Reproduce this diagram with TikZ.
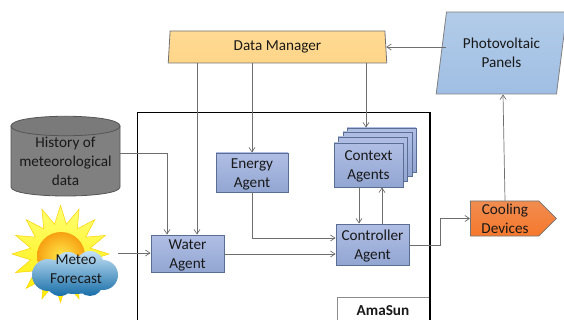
\documentclass[tikz,border=0pt]{standalone}
\usepackage{fontspec}
\setmainfont{Carlito}
\usetikzlibrary{shapes.geometric,shapes.symbols,arrows.meta}
\definecolor{agentedge}{HTML}{5A6D92}
\definecolor{agenttop}{HTML}{B0BEE4}
\definecolor{agentbot}{HTML}{92A6D2}
\definecolor{link}{HTML}{6E6E6E}
\definecolor{dmtop}{HTML}{FFDA94}
\definecolor{dmbot}{HTML}{FFD588}
\definecolor{pvtop}{HTML}{B2CCE8}
\definecolor{pvbot}{HTML}{A0BEE4}
\definecolor{cooltop}{HTML}{F08C50}
\definecolor{coolbot}{HTML}{F6782C}
\definecolor{cloudbot}{HTML}{186EA8}
\definecolor{cloudtop}{HTML}{C4E2F6}
\definecolor{cylfill}{HTML}{808080}
\definecolor{cylend}{HTML}{7A7A7A}
\definecolor{cyledge}{HTML}{555555}
\definecolor{suncore}{HTML}{FFE84A}
\definecolor{sunrim}{HTML}{F7A012}
\tikzset{
  every node/.style={font=\fontsize{15.2}{19}\selectfont,align=center,inner sep=0pt,text=black!90},
  agent/.style={draw=agentedge,line width=0.9pt,top color=agenttop,bottom color=agentbot,rectangle,text depth=0pt},
  agenttext/.style={yshift=-1.5pt},
  link/.style={draw=link,line width=0.7pt,-{Straight Barb[length=4.5pt,width=6pt]}},
}
\begin{document}
\begin{tikzpicture}[x=1pt,y=-1pt]
\useasboundingbox (0,0) rectangle (564,320);
\clip (0,0) rectangle (564,320);
% outer frame
\draw[line width=1.5pt,black] (137.5,330) -- (137.5,112.5) -- (430,112.5) -- (430,330);
\node[draw=black!45,line width=0.8pt,fill=white,rectangle,minimum width=93pt,minimum height=30pt,anchor=north west] (amabox) at (337,297) {};
\draw[line width=1.5pt,black] (430,290) -- (430,330);
\node[font=\fontsize{15.2}{19}\selectfont\bfseries] (amasun) at (383,311) {AmaSun};
% data manager
\node[trapezium,trapezium stretches=true,trapezium left angle=86.4,trapezium right angle=86.4,minimum width=219pt,minimum height=32pt,draw=black!55,line width=0.8pt,top color=dmtop,bottom color=dmbot] (dm) at (277.5,47) {Data Manager};
% photovoltaic
\node[trapezium,trapezium stretches=true,trapezium left angle=76.3,trapezium right angle=103.7,minimum width=131pt,minimum height=82pt,draw=black!50,line width=0.8pt,top color=pvtop,bottom color=pvbot] (pv) at (501.5,53) {Photovoltaic\\Panels};
% history cylinder
\path[draw=cyledge,line width=0.8pt,fill=cylfill] (11,126) -- (11,187) .. controls (11,199) and (120,199) .. (120,187) -- (120,126) -- cycle;
\draw[draw=cyledge,line width=0.8pt,fill=cylend] (11,126) .. controls (11,113) and (120,113) .. (120,126) .. controls (120,139) and (11,139) .. (11,126) -- cycle;
\node[minimum width=109pt] (hist) at (65.5,161) {History of\\meteorological\\data};
% sun
\node[star,star points=16,star point ratio=1.6,minimum size=97pt,draw=yellow!70!orange,line width=0.5pt,top color=yellow!55!white,bottom color=yellow!85!orange] (sun) at (60.5,254) {};
\node[circle,minimum size=48pt,inner color=suncore,outer color=sunrim] (disc) at (61,256) {};
% cloud
\path[top color=cloudtop,bottom color=cloudbot]
  (48,275) circle[radius=16pt] (68,266) circle[radius=14pt] (90,265) circle[radius=14pt]
  (103,275) circle[radius=15pt] (60,282) circle[radius=14pt] (90,283) circle[radius=13pt]
  (75,275) ellipse[x radius=30pt,y radius=19pt];
\node (meteo) at (76,269.5) {Meteo\\Forecast};
\coordinate (meteoout) at (118,253);
% agents
\node[agent,minimum width=73pt,minimum height=37pt] (water) at (187.5,253.5) {};
\node[agenttext] (watertext) at (water.center) {Water\\Agent};
\node[agent,minimum width=72pt,minimum height=39pt] (energy) at (252,172.5) {};
\node[agenttext] (energytext) at (energy.center) {Energy\\Agent};
\node[agent,minimum width=69pt,minimum height=44pt] (ctx4) at (381.5,150) {};
\node[agent,minimum width=69pt,minimum height=44pt] (ctx3) at (377.5,154) {};
\node[agent,minimum width=69pt,minimum height=44pt] (ctx2) at (372.5,159) {};
\node[agent,minimum width=69pt,minimum height=44pt] (ctx) at (368.5,165) {};
\node[agenttext] (ctxtext) at (ctx.center) {Context\\Agents};
\node[agent,minimum width=73pt,minimum height=41pt] (ctrl) at (372.5,244.5) {};
\node[agenttext] (ctrltext) at (ctrl.center) {Controller\\Agent};
% cooling
\node[signal,signal to=east,signal pointer angle=90,minimum width=86pt,minimum height=35pt,anchor=west,draw=black!55,line width=0.8pt,top color=cooltop,bottom color=coolbot] (cool) at (470,218.5) {};
\node (cooltext) at (505,218.5) {Cooling\\Devices};
% connectors
\coordinate (pvl) at (446,47);
\coordinate (c197) at (197,0);
\coordinate (c366) at (366,0);
\coordinate (c167) at (167,0);
\coordinate (c505) at (505,0);
\coordinate (c503) at (503,0);
\draw[link] (pvl) -- (pvl -| dm.east);
\draw[link] (dm.south -| c197) -- (water.north -| c197);
\draw[link] (dm.south -| energy.north) -- (energy.north);
\draw[link] (dm.south -| c366) -- (ctx4.north -| c366);
\draw[link] (hist.east |- 0,153) -- (167,153) -- (water.north -| c167);
\draw[link] (meteoout) -- (water.west |- meteoout);
\draw[link] (water.east |- 0,254) -- (ctrl.west |- 0,254);
\draw[link] (energy.south) -- (252,238) -- (ctrl.west |- 0,238);
\draw[link] (ctx.south -| 359,0) -- (ctrl.north -| 359,0);
\draw[link] (ctrl.north -| 382,0) -- (ctx.south -| 382,0);
\draw[link] (ctrl.east |- 0,245) -- (440,245) -- (440,218.5) -- (cool.west);
\draw[link] (cool.north -| c505) -- (pv.south -| c503);
\end{tikzpicture}
\end{document}
